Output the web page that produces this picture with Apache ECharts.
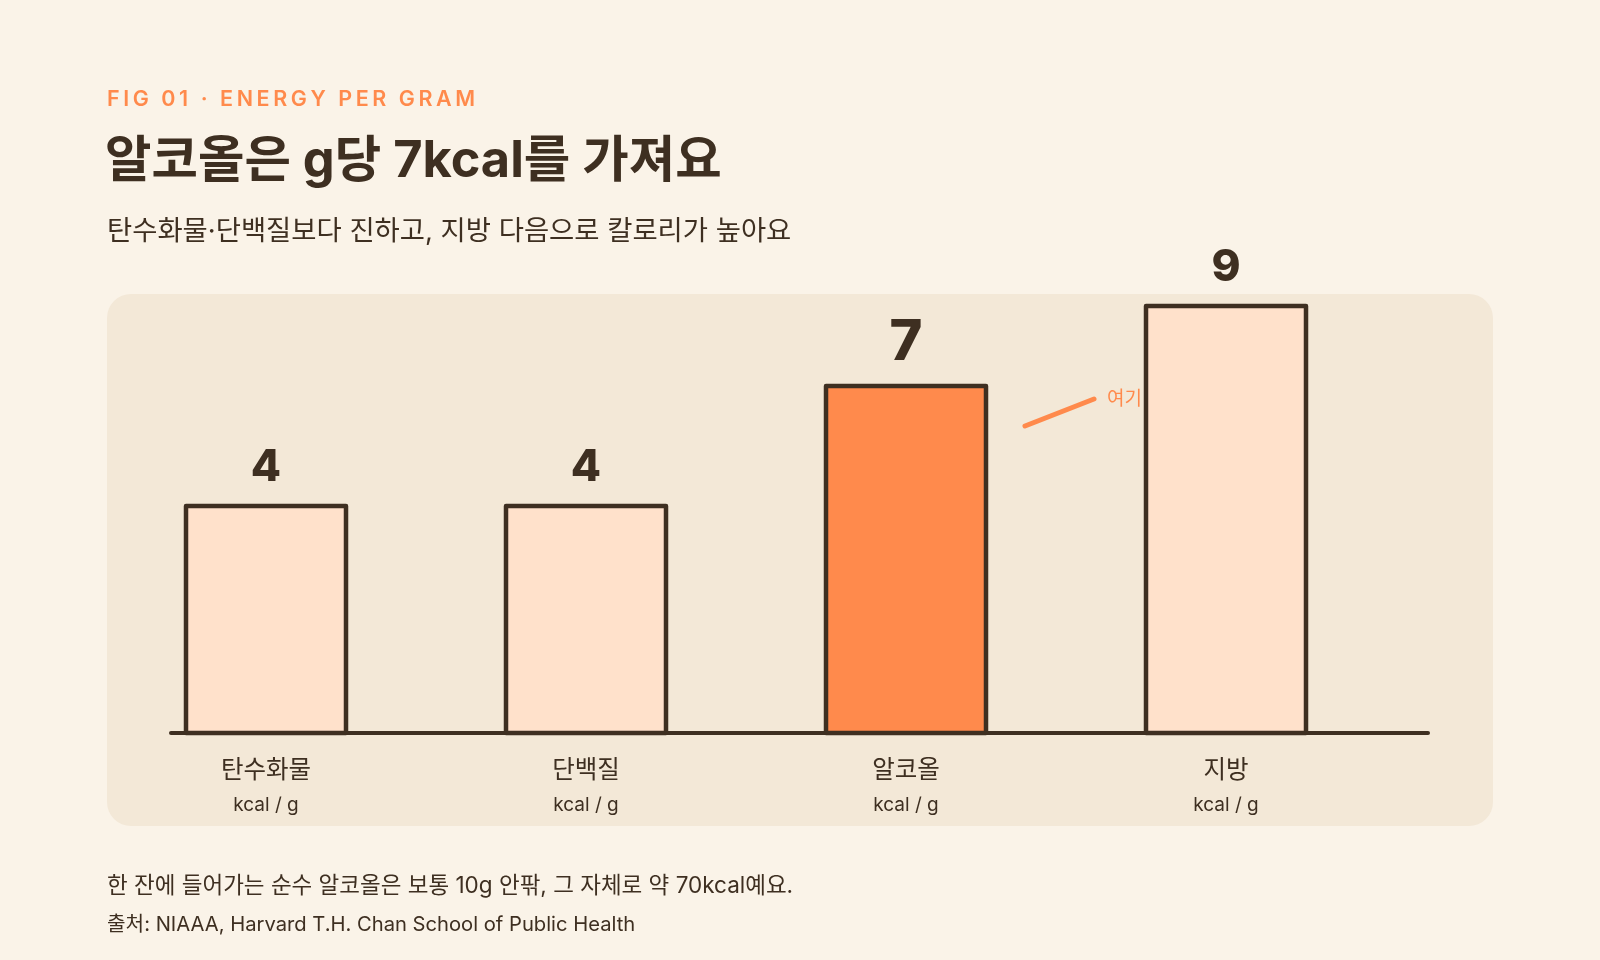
<!DOCTYPE html>
<html>
<head>
<meta charset="utf-8">
<script src="https://cdn.jsdelivr.net/npm/echarts@6/dist/echarts.min.js"></script>
<style>
  html, body { margin: 0; padding: 0; background: #FAF3E8; }
  #chart { width: 1600px; height: 960px; }
</style>
</head>
<body>
<div id="chart"></div>
<script>
const categories = ['탄수화물', '단백질', '알코올', '지방'];
const kcalPerGram = [4, 4, 7, 9];
const unitLabel = 'kcal / g';
const highlightIndex = 2;

const figLabel = 'FIG 01 · ENERGY PER GRAM';
const titleText = '알코올은 g당 7kcal를 가져요';
const subtitleText = '탄수화물·단백질보다 진하고, 지방 다음으로 칼로리가 높아요';
const noteText = '한 잔에 들어가는 순수 알코올은 보통 10g 안팎, 그 자체로 약 70kcal예요.';
const sourceText = '출처: NIAAA, Harvard T.H. Chan School of Public Health';
const annotationText = '여기';

// bars rise from a floor a bit below zero
const Y_MIN = -1.675;
const Y_MAX = 10;

const INK = '#3E2F21';
const ORANGE = '#FF8A4C';
const PEACH = '#FFE1CB';
const PANEL = '#F3E8D7';
const FONT = 'Inter, "Noto Sans CJK KR", sans-serif';

const chart = echarts.init(document.getElementById('chart'));

function spaced(text) {
  return text.split('').join('\u2009');
}

function renderBar(params, api) {
  const idx = api.value(0);
  const value = api.value(1);
  const top = api.coord([idx, value]);
  const base = api.coord([idx, Y_MIN]);
  const width = api.size([1, 0])[0] * 0.5;
  const isHighlight = idx === highlightIndex;
  return {
    type: 'group',
    children: [
      {
        type: 'rect',
        shape: { x: top[0] - width / 2, y: top[1], width: width, height: base[1] - top[1] },
        style: { fill: isHighlight ? ORANGE : PEACH, stroke: INK, lineWidth: 4.5, lineJoin: 'round' },
      },
      {
        type: 'text',
        x: top[0],
        y: top[1] - (isHighlight ? 43 : 38),
        style: {
          text: String(value),
          fontSize: isHighlight ? 56 : 44,
          fontWeight: 800,
          fontFamily: FONT,
          fill: INK,
          align: 'center',
          verticalAlign: 'middle',
        },
      },
    ],
  };
}

const option = {
  backgroundColor: '#FAF3E8',
  animation: false,
  grid: { left: 106, width: 1280, top: 266, bottom: 227, containLabel: false },
  xAxis: {
    type: 'category',
    data: categories,
    boundaryGap: true,
    axisLine: { show: false },
    axisTick: { show: false },
    axisLabel: {
      margin: 21,
      formatter: (name) => `{name|${name}}\n{unit|${unitLabel}}`,
      rich: {
        name: { fontSize: 24.5, lineHeight: 34, color: INK, fontFamily: FONT },
        unit: { fontSize: 19, lineHeight: 34, color: INK, fontFamily: FONT },
      },
    },
  },
  yAxis: {
    type: 'value',
    min: Y_MIN,
    max: Y_MAX,
    show: false,
  },
  series: [
    {
      type: 'custom',
      z: 5,
      renderItem: renderBar,
      encode: { x: 0, y: 1 },
      data: kcalPerGram.map((v, i) => [i, v]),
    },
  ],
};

chart.setOption(option);

const floorY = chart.convertToPixel({ gridIndex: 0 }, [0, Y_MIN])[1];
const hlTop = chart.convertToPixel({ gridIndex: 0 }, [highlightIndex, kcalPerGram[highlightIndex]]);

chart.setOption({
  graphic: [
    {
      type: 'rect', z: 0,
      shape: { x: 107, y: 294, width: 1386, height: 532, r: 24 },
      style: { fill: PANEL },
    },
    {
      type: 'line', z: 1,
      shape: { x1: 171, y1: floorY, x2: 1428, y2: floorY },
      style: { stroke: INK, lineWidth: 4, lineCap: 'round' },
    },
    {
      type: 'line', z: 1,
      shape: { x1: hlTop[0] + 119, y1: hlTop[1] + 40, x2: hlTop[0] + 188, y2: hlTop[1] + 13 },
      style: { stroke: ORANGE, lineWidth: 5, lineCap: 'round' },
    },
    {
      type: 'text', z: 1,
      x: hlTop[0] + 201, y: hlTop[1] + 13,
      style: { text: annotationText, fontSize: 19, fontFamily: FONT, fill: ORANGE, verticalAlign: 'middle' },
    },
    {
      type: 'text', z: 1, x: 107, y: 100,
      style: { text: spaced(figLabel), fontSize: 21.5, fontWeight: 600, fontFamily: FONT, fill: ORANGE, verticalAlign: 'middle' },
    },
    {
      type: 'text', z: 1, x: 105, y: 162,
      style: { text: titleText, fontSize: 50.5, fontWeight: 700, fontFamily: FONT, fill: INK, verticalAlign: 'middle' },
    },
    {
      type: 'text', z: 1, x: 107, y: 232,
      style: { text: subtitleText, fontSize: 27.4, fontFamily: FONT, fill: INK, verticalAlign: 'middle' },
    },
    {
      type: 'text', z: 1, x: 107, y: 886,
      style: { text: noteText, fontSize: 22.5, fontFamily: FONT, fill: INK, verticalAlign: 'middle' },
    },
    {
      type: 'text', z: 1, x: 107, y: 925,
      style: { text: sourceText, fontSize: 20.2, fontFamily: FONT, fill: INK, verticalAlign: 'middle' },
    },
  ],
});

window.addEventListener('resize', () => chart.resize());
</script>
</body>
</html>
